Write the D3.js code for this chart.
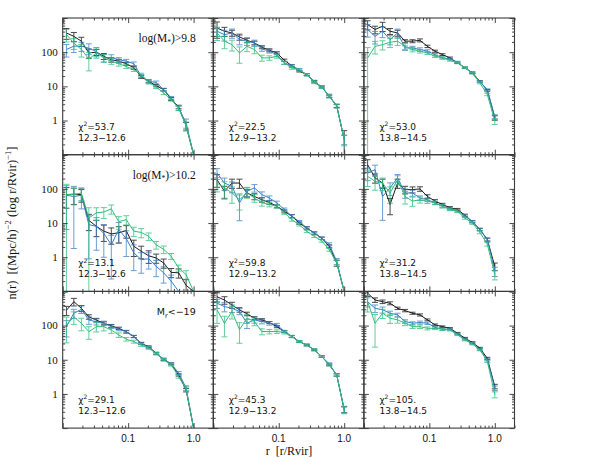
<!DOCTYPE html>
<html>
<head>
<meta charset="utf-8">
<script src="https://cdn.jsdelivr.net/npm/d3@7"></script>
<style>
  body { margin: 0; background: #fff; }
  svg { display: block; }
  .serif { font-family: "Liberation Serif", "Times New Roman", serif; }
  .sans { font-family: "DejaVu Sans", sans-serif; }
  .lsans { font-family: "Liberation Sans", Arial, sans-serif; }
</style>
</head>
<body>
<div id="chart"></div>
<script>
// radial bins (r / Rvir)
const rBins = [0.0114,0.0148,0.0193,0.0251,0.0327,0.0425,0.0553,0.0719,0.0936,0.1218,0.1584,0.2061,0.2682,0.3489,0.4540,0.5906,0.7686,1.0];

// panels: row-major, r1c1 .. r3c3
const blackN = [
  [365,290,210,95,100,76,60,55,46,35,19,14,10.5,8,4.3,2.5,0.7,0.06],
  [510,410,365,280,222,187,140,114,95,58,40,28,22,14,9.6,5.1,2.7,0.28],
  [640,460,575,410,365,210,210,222,148,107,85,68,49,35,25,14,7.7,1.2],
  [68,70,68,12,8,5.8,4.8,5.2,6,2.1,1.5,1.1,0.95,0.68,0.36,0.35,0.15,0.06],
  [186,85,148,148,76,60,48,40,31,22,16,10,7.2,5.1,3.6,2.1,0.68,0.07],
  [510,210,148,35,148,95,95,100,60,44,35,28,25,17,11,6.5,3.3,0.54],
  [280,500,320,180,145,117,98,83,66,48,30,24,15.5,10,7.6,3.6,1.3,0.06],
  [700,560,400,290,220,165,147,123,93,67,48,34,27,19.5,12.4,7.1,3.6,0.35],
  [890,560,500,450,320,275,230,205,147,105,93,83,60,43,32,22,11,1.66]
];
const blueN = [
  [120,150,150,130,105,68,70,60,55,46,20,14,13,8,4.6,2.3,0.85,0.06],
  [410,325,365,234,210,187,125,107,85,49,39,31,22,13,9.6,5.4,2.7,0.28],
  [460,290,410,234,365,133,133,120,107,85,68,63,51,35,25,14,7.9,1.28],
  [65,60,65,9,8,5,2.3,6.5,3.5,1.35,0.85,0.9,0.54,0.35,0.2,0.06,0,0],
  [290,148,118,39,85,107,68,54,39,25,16,11,7.2,5.1,3.6,2.4,0.76,0.07],
  [290,365,60,107,210,76,76,54,48,39,31,26,23,16,11,6.5,3.3,0.39],
  [93,230,300,145,130,117,93,78,66,48,30,23,15.5,10.5,7.6,4.1,1.5,0.06],
  [450,360,320,260,117,147,132,117,105,67,48,34,27,19.5,12.4,7.6,3.6,0.35],
  [500,320,290,230,205,132,117,123,117,89,78,78,57,40,30,20,10,1.48]
];
const greenN = [
  [330,185,120,63,95,68,55,46,38,31,22,13,9.6,6.4,4.1,2.3,0.7,0.06],
  [365,210,166,95,148,120,68,68,76,49,35,30,22,14,9.6,5.1,2.6,0.28],
  [68,148,166,195,210,148,120,107,95,76,68,58,49,35,24,12.6,5.8,0.96],
  [68,68,76,14,20,21,26,11,12.6,5.8,5.3,4.1,2.3,1.7,1.07,0.49,0.31,0.06],
  [148,107,76,48,76,54,39,35,31,20,12.6,8.9,5.7,4.1,3.0,1.66,0.68,0.07],
  [234,166,148,76,186,60,44,48,44,39,31,25,22,14,10,5.4,2.4,0.31],
  [104,180,117,66,93,93,74,53,40,34,27,22,15,10,7.1,3.2,1.4,0.06],
  [290,117,260,76,165,132,67,67,67,63,48,34,27,19.5,12.4,7.1,3.6,0.35],
  [500,117,230,165,147,117,93,93,83,83,78,74,54,38,29,19.5,9,0.96]
];

// fractional errors
const blackErr = [
  [.35,.3,.3,.3,.2,.2,.15,.12,.1,.1,.1,.1,.08,.08,.1,.12,.25,0],
  [.5,.3,.2,.2,.15,.12,.1,.1,.08,.08,.07,.06,.06,.06,.06,.08,.1,.8],
  [.3,.25,.3,.2,.2,.1,.1,.1,.08,.07,.06,.06,.05,.05,.05,.05,.06,.15],
  [.6,.5,.4,.5,.5,.5,.5,.5,.4,.5,.4,.4,.3,.3,.3,.3,.5,0],
  [.4,.4,.3,.3,.25,.2,.15,.12,.1,.1,.1,.08,.08,.08,.08,.1,.2,0],
  [.4,.3,.3,.5,.3,.25,.2,.15,.12,.1,.08,.08,.07,.07,.07,.08,.1,.25],
  [.3,.25,.2,.15,.12,.1,.1,.08,.08,.07,.07,.06,.06,.06,.06,.08,.12,0],
  [.3,.25,.2,.15,.12,.1,.08,.07,.07,.06,.06,.05,.05,.05,.05,.06,.08,.2],
  [.2,.15,.12,.1,.08,.08,.07,.07,.06,.06,.05,.05,.05,.05,.05,.05,.07,.15]
];
const blueErr = [
  [.4,.35,.3,.35,.3,.25,.2,.15,.12,.12,.1,.1,.1,.1,.1,.15,.3,0],
  [.3,.35,.3,.3,.25,.2,.15,.12,.1,.1,.1,.08,.08,.08,.08,.1,.12,.3],
  [.4,.4,.35,.3,.3,.15,.12,.12,.1,.08,.07,.06,.06,.05,.05,.05,.06,.15],
  [.9,.97,.6,.9,.8,.8,.9,.6,.7,.7,.6,.5,.5,.5,.5,0,0,0],
  [.35,.4,.35,.7,.3,.25,.2,.15,.12,.1,.1,.08,.08,.08,.08,.1,.2,0],
  [.4,.35,.8,.4,.25,.3,.2,.15,.12,.1,.1,.08,.08,.08,.08,.08,.1,.3],
  [.5,.3,.25,.25,.2,.15,.12,.1,.1,.08,.08,.07,.07,.07,.07,.1,.15,0],
  [.3,.3,.25,.2,.3,.2,.15,.12,.1,.08,.07,.06,.06,.06,.06,.07,.08,.2],
  [.3,.25,.2,.15,.12,.12,.1,.1,.08,.08,.07,.06,.06,.06,.06,.06,.08,.15]
];
const greenErr = [
  [.4,.35,.4,.55,.3,.25,.2,.15,.12,.12,.1,.1,.1,.1,.1,.15,.3,0],
  [.4,.4,.35,.5,.3,.25,.2,.15,.12,.1,.1,.08,.08,.08,.08,.1,.12,.35],
  [1,.4,.3,.3,.25,.2,.15,.12,.1,.08,.07,.06,.06,.05,.05,.06,.08,.2],
  [1,.5,.4,1,.4,.35,.3,.4,.3,.3,.3,.25,.25,.25,.2,.2,.3,0],
  [.45,.5,.5,.5,.3,.25,.2,.15,.12,.1,.1,.08,.08,.08,.08,.1,.2,0],
  [.5,.45,.4,.5,.3,.4,.3,.2,.15,.12,.1,.08,.08,.08,.08,.1,.12,.3],
  [.7,.4,.4,.4,.3,.25,.2,.15,.12,.1,.1,.08,.08,.08,.08,.1,.15,0],
  [.6,.6,.4,.6,.3,.25,.2,.15,.12,.1,.08,.07,.06,.06,.06,.07,.08,.25],
  [.5,.8,.3,.3,.2,.15,.12,.12,.1,.08,.07,.06,.06,.06,.06,.06,.08,.2]
];

const chi2Vals = ['53.7','22.5','53.0','13.1','59.8','31.2','29.1','45.3','105.'];
const massRanges = ['12.3\u221212.6','12.9\u221213.2','13.8\u221214.5'];
const yTickLabels = [[100,'100'],[10,'10'],[1,'1']];
const xTickLabels = [[0.1,'0.1'],[1,'1.0']];

const W = 598, H = 465;
const left0 = 62.7, top0 = 18, pw = 150.6, ph = 136.7;
const colors = { black: '#1e1e1e', blue: '#3a7fc4', green: '#2fbe7b' };

const svg = d3.select('#chart').append('svg').attr('width', W).attr('height', H);
svg.append('defs').append('clipPath').attr('id', 'pclip')
  .append('rect').attr('width', pw).attr('height', ph);

const x = d3.scaleLog().domain([0.01, 2]).range([0, pw]);
const y = d3.scaleLog().domain([0.1, 1000]).range([ph, 0]).clamp(true);
const line = d3.line().x(d => x(d.r)).y(d => y(d.v));

const isMajor = v => Math.abs(Math.log10(v) - Math.round(Math.log10(v))) < 1e-6;
const xMaj = x.ticks().filter(isMajor), xMin = x.ticks().filter(v => !isMajor(v));
const yMaj = y.ticks().filter(isMajor), yMin = y.ticks().filter(v => !isMajor(v));

function addAxis(g, gen, tr) {
  const a = g.append('g').attr('transform', tr).call(gen);
  a.select('.domain').remove();
  a.selectAll('line').attr('stroke', '#333').attr('stroke-width', 0.9);
}

for (let p = 0; p < 9; p++) {
  const row = Math.floor(p / 3), col = p % 3;
  const g = svg.append('g').attr('transform', `translate(${left0 + col * pw},${top0 + row * ph})`);
  const plot = g.append('g').attr('clip-path', 'url(#pclip)');

  [['black', blackN, blackErr], ['blue', blueN, blueErr], ['green', greenN, greenErr]].forEach(([name, vals, errs]) => {
    const c = colors[name];
    const pts = rBins.map((r, i) => ({ r, v: vals[p][i], e: errs[p][i] }));
    const bars = plot.append('g').attr('stroke', c).attr('stroke-width', 1).attr('opacity', name === 'black' ? 0.8 : 0.75);
    pts.filter(d => d.v > 0 && d.e > 0).forEach(d => {
      const lo = d.v * (1 - d.e), hi = d.v * (1 + d.e);
      const xx = x(d.r), yl = lo > 0 ? y(lo) : ph, yh = y(hi);
      bars.append('line').attr('x1', xx).attr('x2', xx).attr('y1', yl).attr('y2', yh);
      bars.append('line').attr('x1', xx - 3).attr('x2', xx + 3).attr('y1', yh).attr('y2', yh);
      if (lo > 0.1) bars.append('line').attr('x1', xx - 3).attr('x2', xx + 3).attr('y1', yl).attr('y2', yl);
    });
    plot.append('path').datum(pts.filter(d => d.v > 0))
      .attr('fill', 'none').attr('stroke', c).attr('stroke-width', 1)
      .attr('d', line);
  });

  // inward ticks on all four sides
  addAxis(g, d3.axisBottom(x).tickValues(xMaj).tickSize(-5).tickFormat(''), `translate(0,${ph})`);
  addAxis(g, d3.axisBottom(x).tickValues(xMin).tickSize(-2.5).tickFormat(''), `translate(0,${ph})`);
  addAxis(g, d3.axisTop(x).tickValues(xMaj).tickSize(-5).tickFormat(''), 'translate(0,0)');
  addAxis(g, d3.axisTop(x).tickValues(xMin).tickSize(-2.5).tickFormat(''), 'translate(0,0)');
  addAxis(g, d3.axisLeft(y).tickValues(yMaj).tickSize(-5).tickFormat(''), 'translate(0,0)');
  addAxis(g, d3.axisLeft(y).tickValues(yMin).tickSize(-2.5).tickFormat(''), 'translate(0,0)');
  addAxis(g, d3.axisRight(y).tickValues(yMaj).tickSize(-5).tickFormat(''), `translate(${pw},0)`);
  addAxis(g, d3.axisRight(y).tickValues(yMin).tickSize(-2.5).tickFormat(''), `translate(${pw},0)`);

  g.append('rect').attr('width', pw).attr('height', ph)
    .attr('fill', 'none').attr('stroke', '#3a3a3a').attr('stroke-width', 1.1);

  // chi2 + mass range
  const t1 = g.append('text').attr('class', 'sans').attr('font-size', 9).attr('fill', '#111')
    .attr('x', 15.5).attr('y', 111.5);
  t1.append('tspan').text('\u03c7');
  t1.append('tspan').attr('dy', -3.5).attr('font-size', 6).text('2');
  t1.append('tspan').attr('dy', 3.5).text('=' + chi2Vals[p]);
  g.append('text').attr('class', 'sans').attr('font-size', 9).attr('fill', '#111')
    .attr('x', 15.5).attr('y', 122.5).text(massRanges[col]);

  if (col === 0) {
    yTickLabels.forEach(([v, s]) => {
      g.append('text').attr('class', 'serif').attr('font-size', 11).attr('fill', '#111')
        .attr('text-anchor', 'end').attr('x', -5).attr('y', y(v) + 3.8).text(s);
    });
  }
  if (row === 2) {
    xTickLabels.forEach(([v, s]) => {
      g.append('text').attr('class', 'lsans').attr('font-size', 10).attr('fill', '#111')
        .attr('text-anchor', 'middle').attr('x', x(v)).attr('y', ph + 14).text(s);
    });
  }
}

// sample cut labels (first column)
function cutLabel(row) {
  const gx = left0 + 133, gy = top0 + row * ph + 24;
  if (row < 2) {
    const t = svg.append('text').attr('class', 'serif').attr('font-size', 11.5).attr('fill', '#111')
      .attr('text-anchor', 'end').attr('x', gx).attr('y', gy);
    t.append('tspan').text('log(M');
    t.append('tspan').attr('dy', 2.5).attr('font-size', 7.5).text('*');
    t.append('tspan').attr('dy', -2.5).text(row === 0 ? ')>9.8' : ')>10.2');
  } else {
    const t = svg.append('text').attr('class', 'sans').attr('font-size', 9.5).attr('fill', '#111')
      .attr('text-anchor', 'end').attr('x', gx).attr('y', gy);
    t.append('tspan').text('M');
    t.append('tspan').attr('dy', 2.5).attr('font-size', 6.5).text('r');
    t.append('tspan').attr('dy', -2.5).text('<\u221219');
  }
}
[0, 1, 2].forEach(cutLabel);

// axis titles
svg.append('text').attr('class', 'serif').attr('font-size', 12).attr('fill', '#111')
  .attr('text-anchor', 'middle').attr('x', 289).attr('y', 455)
  .style('white-space', 'pre').text('r  [r/Rvir]');

const yl = svg.append('text').attr('class', 'serif').attr('font-size', 12.5).attr('fill', '#111')
  .attr('text-anchor', 'middle').attr('transform', 'translate(16,223) rotate(-90)')
  .style('white-space', 'pre');
yl.append('tspan').text('n(r)  [(Mpc/h)');
yl.append('tspan').attr('dy', -5).attr('font-size', 8.5).text('\u22122');
yl.append('tspan').attr('dy', 5).text(' (log r/Rvir)');
yl.append('tspan').attr('dy', -5).attr('font-size', 8.5).text('\u22121');
yl.append('tspan').attr('dy', 5).text(']');
</script>
</body>
</html>
